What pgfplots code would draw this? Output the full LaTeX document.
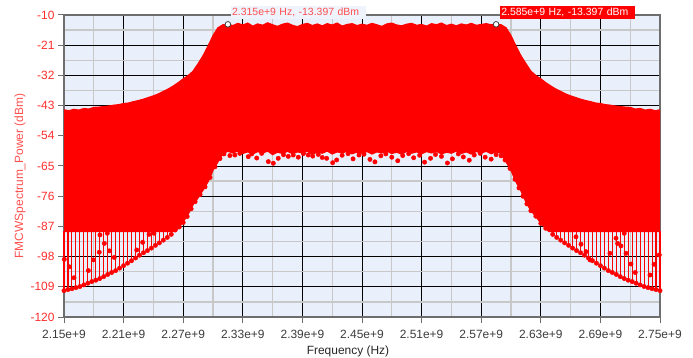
\documentclass[border=0pt]{standalone}
\usepackage{pgfplots}
\pgfplotsset{compat=1.18}
\usepackage{pgfplotstable}
\usepgfplotslibrary{fillbetween}
\usepackage{fontspec}
\setmainfont{Liberation Sans}
\definecolor{plotbg}{RGB}{234,240,251}
\definecolor{tickred}{RGB}{255,45,45}
\definecolor{labred}{RGB}{255,80,80}
\definecolor{minorg}{RGB}{200,200,200}
\definecolor{framegray}{RGB}{110,110,110}
\definecolor{xtickgray}{RGB}{60,60,60}
\definecolor{annbg}{RGB}{238,243,252}

% upper envelope of the dense spectrum
\pgfplotstableread{
f y
2.150 -44.6
2.155 -44.9
2.160 -44.4
2.165 -44.7
2.170 -44.1
2.175 -44.3
2.180 -43.7
2.185 -43.6
2.190 -43.4
2.195 -43.2
2.200 -42.9
2.205 -42.7
2.210 -42.3
2.215 -42.1
2.220 -41.6
2.225 -41.2
2.230 -40.7
2.235 -40.1
2.240 -39.5
2.245 -38.8
2.250 -37.9
2.255 -37.0
2.260 -35.9
2.265 -34.7
2.270 -33.3
2.275 -32.1
2.280 -30.5
2.285 -27.8
2.290 -24.9
2.295 -21.4
2.300 -17.6
2.305 -14.7
2.310 -13.6
2.315 -13.4
2.320 -13.9
2.325 -13.1
2.330 -13.7
2.335 -13.0
2.340 -14.1
2.345 -13.3
2.350 -13.8
2.355 -12.9
2.360 -13.6
2.365 -14.2
2.370 -13.4
2.375 -13.0
2.380 -13.8
2.385 -14.3
2.390 -13.5
2.395 -13.1
2.400 -13.9
2.405 -13.3
2.410 -14.0
2.415 -13.2
2.420 -13.7
2.425 -13.0
2.430 -14.1
2.435 -13.5
2.440 -13.2
2.445 -13.9
2.450 -13.4
2.455 -13.8
2.460 -13.1
2.465 -13.6
2.470 -14.2
2.475 -13.3
2.480 -13.0
2.485 -13.7
2.490 -14.0
2.495 -13.4
2.500 -13.1
2.505 -13.8
2.510 -13.5
2.515 -14.1
2.520 -13.2
2.525 -13.6
2.530 -13.0
2.535 -13.9
2.540 -13.4
2.545 -14.0
2.550 -13.3
2.555 -13.7
2.560 -13.1
2.565 -13.8
2.570 -13.5
2.575 -13.2
2.580 -13.6
2.585 -13.4
2.590 -13.6
2.595 -14.7
2.600 -17.6
2.605 -21.4
2.610 -24.9
2.615 -27.8
2.620 -30.5
2.625 -32.1
2.630 -33.3
2.635 -34.7
2.640 -35.9
2.645 -37.0
2.650 -37.9
2.655 -38.8
2.660 -39.5
2.665 -40.1
2.670 -40.7
2.675 -41.2
2.680 -41.6
2.685 -42.1
2.690 -42.3
2.695 -42.7
2.700 -42.9
2.705 -43.2
2.710 -43.4
2.715 -43.6
2.720 -43.7
2.725 -44.3
2.730 -44.1
2.735 -44.7
2.740 -44.4
2.745 -44.9
2.750 -44.6
}\upperenv

% lower edge of the dense spectrum
\pgfplotstableread{
f y
2.150 -88.8
2.200 -88.8
2.262 -88.8
2.265 -87.6
2.270 -85.3
2.275 -82.5
2.280 -79.0
2.285 -76.5
2.290 -73.7
2.295 -70.7
2.300 -66.5
2.305 -63.4
2.310 -60.4
2.315 -59.6
2.320 -60.2
2.325 -59.5
2.330 -60.4
2.335 -59.8
2.340 -60.6
2.345 -59.7
2.350 -60.3
2.355 -59.5
2.360 -60.8
2.365 -59.9
2.370 -60.4
2.375 -59.6
2.380 -60.5
2.385 -59.8
2.390 -60.2
2.395 -59.6
2.400 -60.7
2.405 -59.9
2.410 -60.3
2.415 -59.5
2.420 -60.6
2.425 -59.8
2.430 -60.2
2.435 -59.6
2.440 -60.5
2.445 -59.9
2.450 -60.3
2.455 -59.7
2.460 -60.6
2.465 -59.8
2.470 -60.2
2.475 -59.5
2.480 -60.4
2.485 -59.9
2.490 -60.7
2.495 -59.6
2.500 -60.3
2.505 -59.8
2.510 -60.5
2.515 -59.7
2.520 -60.2
2.525 -59.6
2.530 -60.6
2.535 -59.9
2.540 -60.3
2.545 -59.5
2.550 -60.4
2.555 -59.8
2.560 -60.6
2.565 -59.7
2.570 -60.2
2.575 -59.6
2.580 -60.5
2.585 -59.8
2.590 -60.4
2.595 -63.4
2.600 -66.5
2.605 -70.7
2.610 -74.0
2.615 -78.0
2.620 -81.2
2.625 -83.3
2.630 -85.8
2.635 -87.6
2.638 -88.8
2.700 -88.8
2.750 -88.8
}\lowerenv

% stems: lowest points of the side lobes (y, length up to the dense band)
\pgfplotstableread{
f y e
2.150 -110.4 21.6
2.154 -110.0 21.2
2.158 -109.7 20.9
2.162 -109.3 20.5
2.166 -108.9 20.1
2.170 -108.3 19.5
2.174 -107.7 18.9
2.178 -107.1 18.3
2.182 -106.6 17.8
2.186 -106.0 17.2
2.190 -105.3 16.5
2.194 -104.5 15.7
2.198 -103.8 15.0
2.202 -103.1 14.3
2.206 -102.2 13.4
2.210 -101.3 12.5
2.214 -100.4 11.6
2.218 -99.5 10.7
2.222 -98.5 9.7
2.226 -97.5 8.7
2.230 -96.6 7.8
2.234 -95.8 7.0
2.238 -94.9 6.1
2.242 -93.9 5.1
2.246 -93.0 4.2
2.250 -92.0 3.2
2.254 -91.0 2.2
2.258 -89.9 1.1
2.642 -89.9 1.1
2.646 -91.0 2.2
2.650 -92.0 3.2
2.654 -93.0 4.2
2.658 -93.9 5.1
2.662 -94.9 6.1
2.666 -95.8 7.0
2.670 -96.6 7.8
2.674 -97.5 8.7
2.678 -98.5 9.7
2.682 -99.5 10.7
2.686 -100.4 11.6
2.690 -101.3 12.5
2.694 -102.2 13.4
2.698 -103.1 14.3
2.702 -103.8 15.0
2.706 -104.5 15.7
2.710 -105.3 16.5
2.714 -106.0 17.2
2.718 -106.6 17.8
2.722 -107.1 18.3
2.726 -107.7 18.9
2.730 -108.3 19.5
2.734 -108.9 20.1
2.738 -109.3 20.5
2.742 -109.7 20.9
2.746 -110.0 21.2
2.750 -110.4 21.6
}\stemtab

% other sample points (dots)
\pgfplotstableread{
f y
2.1503 -99.0
2.1553 -101.7
2.1601 -105.7
2.1745 -103.1
2.1795 -99.2
2.1855 -96.4
2.1862 -90.1
2.1906 -93.2
2.1936 -89.5
2.1956 -95.9
2.2006 -98.3
2.2232 -95.6
2.2292 -92.8
2.2356 -89.9
2.2406 -89.5
2.262 -88.3
2.266 -87.2
2.270 -85.6
2.274 -83.4
2.278 -80.6
2.282 -78.0
2.287 -75.4
2.292 -72.6
2.297 -69.2
2.302 -65.3
2.307 -62.3
2.311 -60.6
2.317 -61.2
2.322 -61.0
2.327 -60.4
2.3355 -61.6
2.339 -60.6
2.344 -62.1
2.349 -60.4
2.3557 -63.4
2.3607 -64.0
2.3657 -62.2
2.371 -60.9
2.3758 -61.5
2.3808 -61.0
2.3859 -61.8
2.391 -60.5
2.3959 -61.0
2.4004 -61.4
2.406 -60.8
2.410 -61.9
2.4144 -62.2
2.4205 -63.8
2.4245 -62.8
2.430 -61.1
2.436 -60.5
2.441 -62.4
2.447 -61.0
2.452 -60.7
2.458 -62.6
2.463 -63.5
2.469 -61.3
2.474 -60.6
2.480 -61.8
2.486 -63.1
2.491 -61.2
2.497 -60.5
2.502 -62.0
2.508 -61.1
2.513 -63.6
2.519 -62.2
2.524 -60.8
2.530 -61.5
2.536 -63.9
2.541 -62.4
2.547 -60.6
2.552 -61.7
2.558 -62.9
2.563 -61.0
2.569 -60.4
2.574 -61.8
2.580 -62.5
2.585 -60.9
2.590 -61.3
2.594 -62.8
2.599 -65.9
2.604 -69.8
2.608 -73.0
2.612 -76.0
2.616 -78.8
2.620 -81.3
2.625 -83.3
2.630 -85.9
2.635 -87.7
2.6654 -90.8
2.6705 -93.5
2.6755 -96.2
2.6795 -99.2
2.6996 -96.8
2.7057 -91.3
2.7073 -93.2
2.7107 -94.1
2.7140 -89.5
2.7158 -96.8
2.7208 -100.7
2.7251 -103.8
2.7399 -104.7
2.7440 -100.8
2.7493 -97.4
}\dottab

\begin{document}
\begin{tikzpicture}
\begin{axis}[
  at={(0,0)}, anchor=south west,
  scale only axis, width=596bp, height=302bp,
  xmin=2.15, xmax=2.75, ymin=-120, ymax=-10,
  clip=false,
  axis background/.style={fill=plotbg},
  xtick={2.15,2.21,2.27,2.33,2.39,2.45,2.51,2.57,2.63,2.69,2.75},
  xticklabels={2.15e+9,2.21e+9,2.27e+9,2.33e+9,2.39e+9,2.45e+9,2.51e+9,2.57e+9,2.63e+9,2.69e+9,2.75e+9},
  ytick={-120,-109,-98,-87,-76,-65,-54,-43,-32,-21,-10},
  yticklabels={-120,-109,-98,-87,-76,-65,-54,-43,-32,-21,-10},
  minor tick num=1,
  grid=both,
  major grid style={black, line width=0.9bp},
  minor grid style={minorg, line width=1.3bp},
  axis line style={framegray, line width=1.6bp},
  tick align=outside, tick pos=left,
  major tick length=6bp, minor tick length=0pt,
  tick style={framegray, line width=1bp},
  ticklabel style={font=\fontsize{12}{14}\selectfont},
  xticklabel style={text=xtickgray, yshift=-4bp},
  yticklabel style={text=tickred},
]
\addplot[name path=U, draw=red, line width=1.4bp] table[x=f,y=y] {\upperenv};
\addplot[name path=D, draw=red, line width=1.4bp] table[x=f,y=y] {\lowerenv};
\addplot[fill=red, draw=none] fill between[of=U and D];
\addplot[red, only marks, mark=*, mark size=2.2bp,
  error bars/.cd, y dir=plus, y explicit, error mark=none,
  error bar style={red, line width=1.1bp}]
  table[x=f, y=y, y error plus=e] {\stemtab};
\addplot[red, only marks, mark=*, mark size=2.2bp] table[x=f,y=y] {\dottab};
\addplot[only marks, mark=*, mark size=2.8bp,
  mark options={fill=white, draw=black!75, line width=0.8bp}]
  coordinates {(2.315,-13.397) (2.585,-13.397)};
\coordinate (m1) at (axis cs:2.315,-13.397);
\coordinate (m2) at (axis cs:2.585,-13.397);
\end{axis}
\node[anchor=south west, fill=annbg, text=labred, font=\fontsize{10.5}{12}\selectfont,
  inner xsep=1bp, inner ysep=0bp, minimum height=13.5bp, text width=133bp, align=left]
  at ([shift={(3bp,5bp)}]m1) {2.315e+9 Hz, -13.397 dBm};
\node[anchor=south west, fill=red, text=white, font=\fontsize{10.5}{12}\selectfont,
  inner xsep=1bp, inner ysep=0bp, minimum height=13.5bp, text width=133bp, align=left]
  at ([shift={(4bp,5bp)}]m2) {2.585e+9 Hz, -13.397 dBm};
\node[rotate=90, text=labred, font=\fontsize{12}{14}\selectfont] at (-44bp,141bp) {FMCWSpectrum\_Power (dBm)};
\node[text=black!85, font=\fontsize{12}{14}\selectfont] at (284bp,-34.5bp) {Frequency (Hz)};
\pgfresetboundingbox
\useasboundingbox (-64bp,-41bp) rectangle (629bp,317bp);
\end{tikzpicture}
\end{document}
